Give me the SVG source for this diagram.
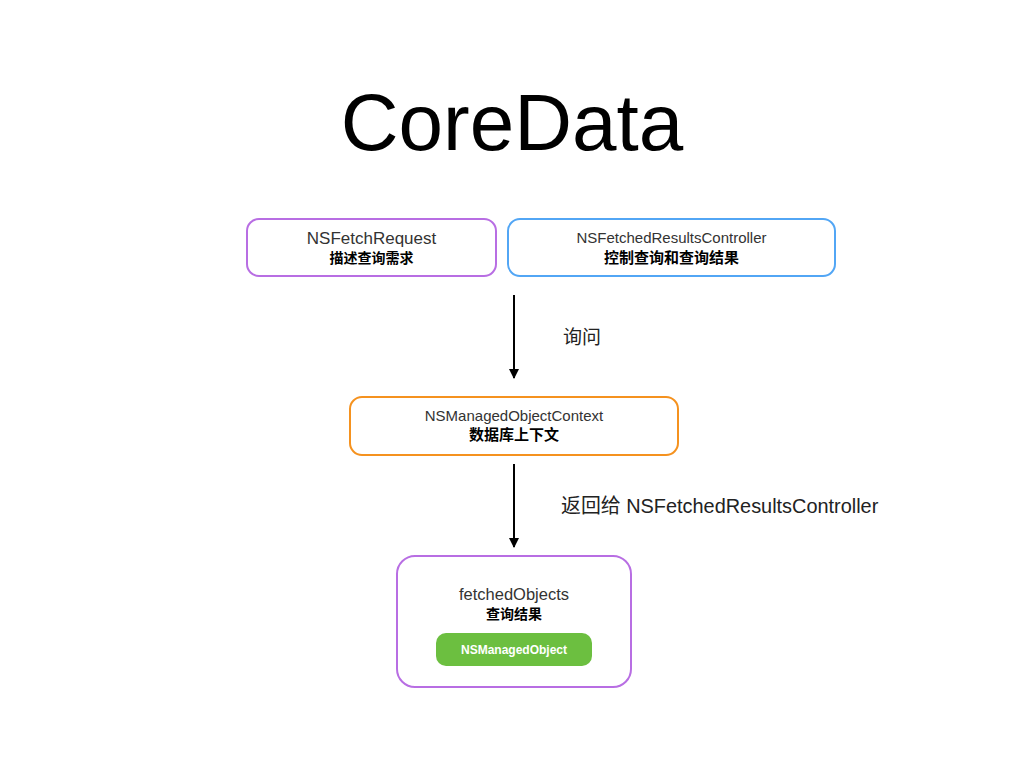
<svg xmlns="http://www.w3.org/2000/svg" width="1024" height="768" viewBox="0 0 1024 768">
<defs>
<marker id="ah" viewBox="0 0 10 10" refX="9" refY="5" markerWidth="10" markerHeight="10" markerUnits="userSpaceOnUse" orient="auto">
<path d="M0,0 L10,5 L0,10 z" fill="#000"/>
</marker>
<style>
text{font-family:"Liberation Sans","Noto Sans CJK SC",sans-serif;}
.box{fill:#fff;stroke-width:2;}
.t{font-size:15px;fill:#333;text-anchor:middle;}
.c{font-size:14px;font-weight:bold;fill:#000;text-anchor:middle;}
.lbl{font-size:19px;fill:#222;}
.conn{stroke:#000;stroke-width:2;fill:none;marker-end:url(#ah);}
</style>
</defs>
<rect width="1024" height="768" fill="#fff"/>
<text x="512" y="150" font-size="80" text-anchor="middle" fill="#000">CoreData</text>
<g id="connectors">
<line class="conn" x1="514" y1="295" x2="514" y2="378"/>
<line class="conn" x1="514" y1="464" x2="514" y2="547"/>
<text class="lbl" x="563" y="344">询问</text>
<text class="lbl" x="561" y="513" style="font-size:19.9px">返回给 NSFetchedResultsController</text>
</g>
<g id="fetchRequest">
<rect class="box" x="247" y="219" width="249" height="57" rx="12" stroke="#b86ee3"/>
<text class="t" x="371.5" y="244" style="font-size:17px">NSFetchRequest</text>
<text class="c" x="371.5" y="263">描述查询需求</text>
</g>
<g id="fetchedResultsController">
<rect class="box" x="508" y="219" width="327" height="57" rx="12" stroke="#52a6f5"/>
<text class="t" x="671.5" y="243">NSFetchedResultsController</text>
<text class="c" x="671.5" y="263" style="font-size:15px">控制查询和查询结果</text>
</g>
<g id="context">
<rect class="box" x="350" y="397" width="328" height="58" rx="12" stroke="#f5921f"/>
<text class="t" x="514" y="421">NSManagedObjectContext</text>
<text class="c" x="514" y="440" style="font-size:15px">数据库上下文</text>
</g>
<g id="fetchedObjects">
<rect class="box" x="397" y="556" width="234" height="131" rx="18" stroke="#b86ee3"/>
<text class="t" x="514" y="600" style="font-size:16.5px">fetchedObjects</text>
<text class="c" x="514" y="619">查询结果</text>
</g>
<g id="managedObject">
<rect x="436" y="633" width="156" height="33" rx="10" fill="#6cbf40"/>
<text x="514" y="654" font-size="12" font-weight="bold" fill="#fff" text-anchor="middle">NSManagedObject</text>
</g>
</svg>
